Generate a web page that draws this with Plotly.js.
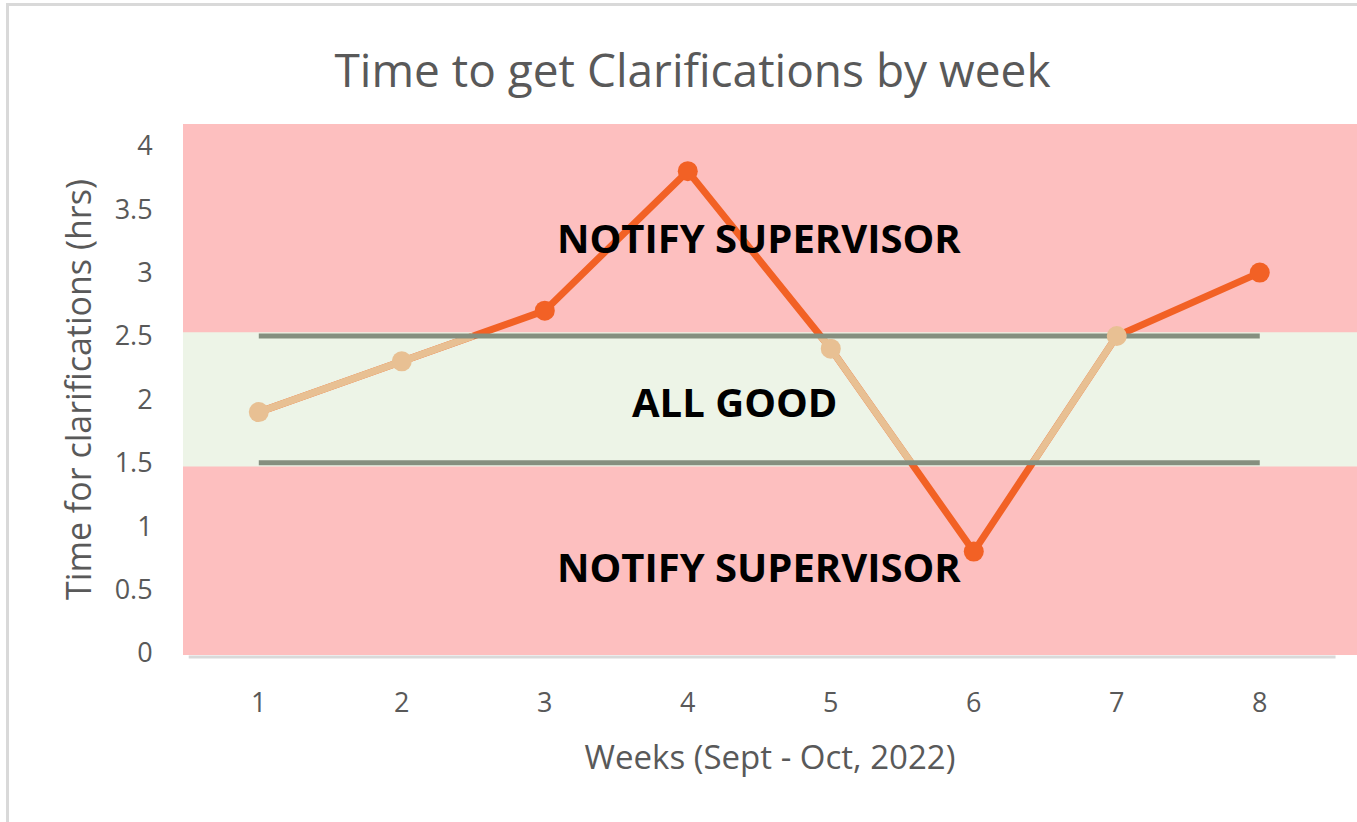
<!DOCTYPE html>
<html>
<head>
<meta charset="utf-8">
<script src="https://cdn.plot.ly/plotly-3.0.1.min.js"></script>
<style>
  html, body { margin: 0; padding: 0; background: #fff; }
  #chart { width: 1357px; height: 822px; }
  #frame { position: absolute; left: 6px; top: 3px; width: 1400px; height: 900px;
           border-left: 3px solid #d9d9d9; border-top: 3px solid #d9d9d9; pointer-events: none; }
</style>
</head>
<body>
<div id="chart"></div>
<div id="frame"></div>
<script>
const weeks = [1, 2, 3, 4, 5, 6, 7, 8];
const hours = [1.9, 2.3, 2.7, 3.8, 2.4, 0.8, 2.5, 3.0];
const lowerLimit = 1.5;
const upperLimit = 2.5;
const bandLow = 1.47;
const bandHigh = 2.53;
const zoneLabels = ['NOTIFY SUPERVISOR', 'ALL GOOD', 'NOTIFY SUPERVISOR'];
const zoneLabelX = [4.5, 4.33, 4.5];
const zoneLabelY = [3.28, 1.98, 0.68];

const ORANGE = '#F26125';
const TAN = '#E8C093';
const LIMIT = '#858F7F';

// In-band parts of the line (derived from the data and the limits)
const tanX = [], tanY = [];
for (let i = 0; i < weeks.length - 1; i++) {
  const x0 = weeks[i], y0 = hours[i], x1 = weeks[i + 1], y1 = hours[i + 1];
  let t0 = 0, t1 = 1;
  const dy = y1 - y0;
  if (dy === 0) {
    if (y0 < lowerLimit || y0 > upperLimit) continue;
  } else {
    let ta = (lowerLimit - y0) / dy, tb = (upperLimit - y0) / dy;
    if (ta > tb) { const t = ta; ta = tb; tb = t; }
    t0 = Math.max(t0, ta); t1 = Math.min(t1, tb);
    if (t0 >= t1) continue;
  }
  tanX.push(x0 + t0 * (x1 - x0), x0 + t1 * (x1 - x0), null);
  tanY.push(y0 + t0 * dy, y0 + t1 * dy, null);
}
const inBand = hours.map(v => v >= lowerLimit && v <= upperLimit);
const inX = weeks.filter((w, i) => inBand[i]);
const inY = hours.filter((v, i) => inBand[i]);
const outX = weeks.filter((w, i) => !inBand[i]);
const outY = hours.filter((v, i) => !inBand[i]);

const FONT = 'Open Sans, Noto Sans, sans-serif';

const traces = [
  { x: weeks, y: hours, mode: 'lines', line: { color: ORANGE, width: 7 }, hoverinfo: 'skip', showlegend: false },
  { x: tanX, y: tanY, mode: 'lines', line: { color: TAN, width: 7 }, connectgaps: false, hoverinfo: 'skip', showlegend: false },
  { x: weeks, y: weeks.map(() => upperLimit), mode: 'lines', line: { color: LIMIT, width: 5 }, hoverinfo: 'skip', showlegend: false },
  { x: weeks, y: weeks.map(() => lowerLimit), mode: 'lines', line: { color: LIMIT, width: 5 }, hoverinfo: 'skip', showlegend: false },
  { x: inX, y: inY, mode: 'markers', marker: { color: TAN, size: 20 }, showlegend: false },
  { x: outX, y: outY, mode: 'markers', marker: { color: ORANGE, size: 20 }, showlegend: false }
];

const layout = {
  width: 1357, height: 822,
  margin: { l: 183, r: 0, t: 124, b: 167, pad: 0 },
  paper_bgcolor: '#ffffff',
  plot_bgcolor: '#FDBFBF',
  showlegend: false,
  font: { family: FONT, color: '#595959' },
  title: {
    text: 'Time to get Clarifications by week',
    font: { family: FONT, size: 46, color: '#595959' },
    xref: 'paper', x: 0.434, xanchor: 'center',
    yref: 'container', y: 0.914, yanchor: 'middle'
  },
  xaxis: {
    range: [0.47, 8.68],
    tickvals: weeks, ticktext: weeks.map(String),
    showgrid: false, zeroline: false, showline: false,
    ticks: 'outside', ticklen: 24, tickcolor: 'rgba(0,0,0,0)',
    tickfont: { family: FONT, size: 27, color: '#595959' },
    title: { text: 'Weeks (Sept - Oct, 2022)', font: { family: FONT, size: 33, color: '#595959' }, standoff: 26 },
    fixedrange: true
  },
  yaxis: {
    range: [-0.0157, 4.172],
    tickvals: [0, 0.5, 1, 1.5, 2, 2.5, 3, 3.5, 4],
    ticktext: ['0', '0.5', '1', '1.5', '2', '2.5', '3', '3.5', '4'],
    showgrid: false, zeroline: false, showline: false,
    ticks: 'outside', ticklen: 24, tickcolor: 'rgba(0,0,0,0)',
    tickfont: { family: FONT, size: 27, color: '#595959' },
    title: { text: 'Time for clarifications (hrs)', font: { family: FONT, size: 34, color: '#595959' }, standoff: 12 },
    fixedrange: true
  },
  shapes: [
    { type: 'rect', xref: 'paper', yref: 'y', x0: 0, x1: 1, y0: bandLow, y1: bandHigh,
      fillcolor: '#EDF4E7', line: { width: 0 }, layer: 'below' },
    { type: 'line', xref: 'x', yref: 'paper', x0: 0.51, x1: 8.53, y0: -0.004, y1: -0.004,
      line: { color: '#D9D9D9', width: 3 } }
  ],
  annotations: zoneLabels.map((t, i) => ({
    text: '<b>' + t + '</b>', x: zoneLabelX[i], y: zoneLabelY[i], xref: 'x', yref: 'y',
    showarrow: false, font: { family: FONT, size: 40, color: '#000000' },
    xanchor: 'center', yanchor: 'middle'
  }))
};

Plotly.newPlot('chart', traces, layout, { displayModeBar: false, staticPlot: true });
</script>
</body>
</html>
